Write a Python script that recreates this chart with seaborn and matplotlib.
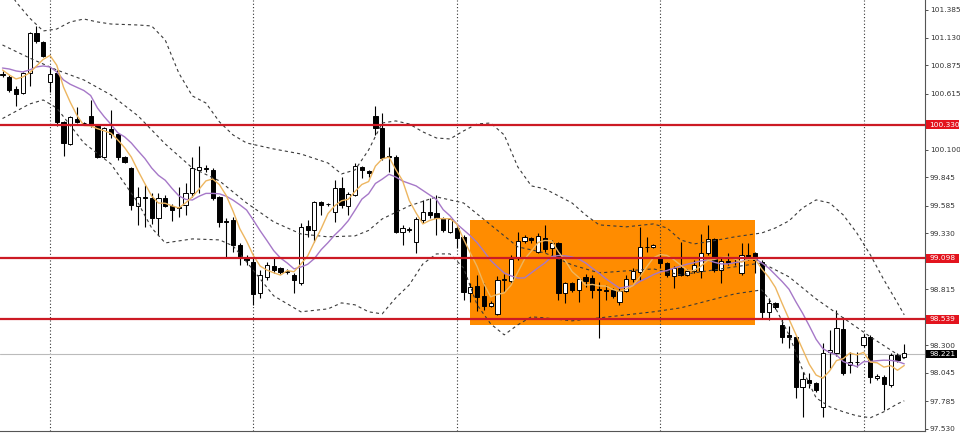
import numpy as np
import pandas as pd
import seaborn as sns
import matplotlib.pyplot as plt
from matplotlib.patches import Rectangle

# OHLC values, one entry per bar (bar 0 = leftmost)
opens = [100.787, 100.769, 100.658, 100.621, 100.805, 101.173, 101.091, 100.723, 100.805, 100.355,
         100.152, 100.382, 100.345, 100.410, 100.318, 100.033, 100.290, 100.244, 100.033, 99.931,
         99.582, 99.665, 99.655, 99.471, 99.655, 99.582, 99.573, 99.591, 99.701, 99.913,
         99.931, 99.913, 99.665, 99.444, 99.453, 99.223, 99.103, 99.067, 98.781, 98.929,
         99.030, 99.011, 98.984, 98.947, 98.873, 99.398, 99.361, 99.619, 99.600, 99.527,
         99.747, 99.582, 99.683, 99.941, 99.904, 100.410, 100.299, 100.042, 100.033, 99.343,
         99.361, 99.251, 99.453, 99.527, 99.517, 99.471, 99.343, 99.379, 99.297, 98.781,
         98.846, 98.754, 98.662, 98.589, 98.901, 98.892, 99.113, 99.260, 99.287, 99.159,
         99.287, 99.195, 99.241, 98.781, 98.873, 98.809, 98.929, 98.919, 98.818, 98.809,
         98.809, 98.699, 98.800, 98.910, 98.975, 99.205, 99.205, 99.113, 99.057, 98.938,
         99.011, 98.947, 98.984, 98.984, 99.149, 99.278, 98.993, 99.076, 99.067, 98.965,
         99.131, 99.149, 99.067, 98.607, 98.689, 98.487, 98.395, 98.377, 97.917, 97.981,
         97.953, 97.733, 98.239, 98.229, 98.450, 98.119, 98.147, 98.303, 98.377, 97.999,
         98.009, 97.935, 98.211, 98.193]
highs = [100.824, 100.787, 100.686, 100.815, 101.183, 101.238, 101.100, 100.861, 100.833, 100.364,
         100.410, 100.493, 100.355, 100.557, 100.336, 100.309, 100.465, 100.253, 100.042, 99.941,
         99.757, 99.775, 99.701, 99.701, 99.683, 99.600, 99.757, 99.793, 100.033, 100.134,
         99.959, 99.931, 99.674, 99.471, 99.481, 99.241, 99.131, 99.103, 98.993, 99.067,
         99.113, 99.021, 99.002, 98.965, 99.425, 99.453, 99.628, 99.628, 99.609, 99.821,
         99.849, 99.711, 99.977, 99.950, 99.913, 100.502, 100.437, 100.125, 100.051, 99.407,
         99.389, 99.481, 99.637, 99.655, 99.683, 99.481, 99.471, 99.407, 99.315, 98.873,
         98.947, 98.873, 98.708, 98.938, 98.956, 99.131, 99.343, 99.315, 99.297, 99.333,
         99.407, 99.269, 99.251, 98.883, 98.883, 98.919, 98.956, 98.947, 98.883, 98.855,
         98.827, 98.827, 98.947, 99.011, 99.389, 99.297, 99.232, 99.149, 99.067, 99.030,
         99.251, 99.002, 99.085, 99.324, 99.407, 99.287, 99.103, 99.149, 99.103, 99.241,
         99.241, 99.159, 99.085, 98.735, 98.699, 98.551, 98.478, 98.386, 98.055, 98.045,
         97.963, 98.321, 98.441, 98.625, 98.561, 98.239, 98.239, 98.404, 98.395, 98.036,
         98.027, 98.229, 98.229, 98.312]
lows = [100.769, 100.631, 100.502, 100.612, 100.686, 101.081, 100.953, 100.631, 100.318, 100.042,
        100.143, 100.345, 100.336, 100.309, 100.023, 100.023, 100.207, 100.005, 99.977, 99.545,
        99.407, 99.389, 99.416, 99.315, 99.573, 99.444, 99.481, 99.499, 99.665, 99.701,
        99.895, 99.637, 99.389, 99.113, 99.159, 99.039, 99.039, 98.671, 98.735, 98.901,
        98.965, 98.956, 98.956, 98.781, 98.855, 99.297, 99.251, 99.499, 99.582, 99.435,
        99.563, 99.499, 99.674, 99.839, 99.849, 100.235, 100.005, 99.895, 99.333, 99.223,
        99.343, 99.149, 99.425, 99.471, 99.315, 99.343, 99.333, 99.195, 98.717, 98.699,
        98.616, 98.625, 98.653, 98.579, 98.791, 98.873, 99.085, 99.241, 99.241, 99.149,
        99.159, 99.113, 98.717, 98.689, 98.791, 98.699, 98.837, 98.735, 98.367, 98.717,
        98.735, 98.671, 98.791, 98.883, 98.901, 99.159, 99.195, 99.011, 98.929, 98.827,
        98.938, 98.938, 98.965, 98.919, 99.131, 98.975, 98.873, 99.039, 99.039, 98.947,
        99.085, 98.965, 98.551, 98.533, 98.634, 98.321, 98.275, 97.815, 97.641, 97.907,
        97.871, 97.641, 98.091, 98.202, 98.027, 98.045, 98.101, 98.285, 97.953, 97.981,
        97.705, 97.917, 98.147, 98.183]
closes = [100.796, 100.649, 100.612, 100.805, 101.173, 101.100, 100.962, 100.796, 100.355, 100.161,
          100.401, 100.355, 100.341, 100.336, 100.033, 100.299, 100.244, 100.033, 99.987, 99.591,
          99.665, 99.655, 99.471, 99.655, 99.582, 99.545, 99.563, 99.701, 99.931, 99.941,
          99.922, 99.655, 99.435, 99.435, 99.223, 99.113, 99.085, 98.772, 98.947, 99.039,
          98.993, 98.975, 98.975, 98.901, 99.389, 99.361, 99.619, 99.591, 99.596, 99.747,
          99.591, 99.692, 99.950, 99.913, 99.885, 100.299, 100.023, 100.033, 99.343, 99.379,
          99.370, 99.462, 99.527, 99.499, 99.471, 99.361, 99.462, 99.287, 98.791, 98.837,
          98.745, 98.662, 98.689, 98.901, 98.910, 99.094, 99.260, 99.297, 99.269, 99.306,
          99.186, 99.241, 98.781, 98.873, 98.809, 98.910, 98.892, 98.809, 98.809, 98.800,
          98.754, 98.800, 98.910, 98.984, 99.205, 99.200, 99.223, 99.057, 98.947, 99.011,
          98.947, 98.984, 99.039, 99.149, 99.278, 98.993, 99.076, 99.057, 99.062, 99.131,
          99.122, 99.085, 98.607, 98.689, 98.653, 98.377, 98.377, 97.917, 97.990, 97.953,
          97.889, 98.229, 98.257, 98.459, 98.045, 98.147, 98.142, 98.377, 98.009, 98.018,
          97.944, 98.211, 98.165, 98.229]

# moving averages as drawn on the chart (orange = fast, purple = slow)
ma_fast = [100.833, 100.787, 100.750, 100.769, 100.807, 100.868, 100.930, 100.967, 100.877, 100.675,
           100.535, 100.413, 100.322, 100.319, 100.293, 100.273, 100.251, 100.189, 100.119, 100.031,
           99.904, 99.786, 99.674, 99.608, 99.606, 99.582, 99.563, 99.609, 99.665, 99.736,
           99.812, 99.830, 99.777, 99.677, 99.534, 99.372, 99.258, 99.125, 99.028, 98.991,
           98.967, 98.945, 98.986, 98.976, 99.046, 99.120, 99.249, 99.372, 99.511, 99.583,
           99.629, 99.643, 99.715, 99.779, 99.806, 99.948, 100.014, 100.031, 99.917, 99.815,
           99.630, 99.517, 99.416, 99.448, 99.466, 99.464, 99.464, 99.416, 99.275, 99.148,
           99.024, 98.864, 98.745, 98.767, 98.781, 98.851, 98.971, 99.092, 99.166, 99.245,
           99.264, 99.260, 99.157, 99.078, 98.978, 98.923, 98.853, 98.859, 98.846, 98.844,
           98.813, 98.794, 98.815, 98.849, 98.930, 99.020, 99.104, 99.134, 99.126, 99.088,
           99.037, 98.989, 98.986, 99.026, 99.080, 99.089, 99.107, 99.111, 99.093, 99.064,
           99.090, 99.091, 99.001, 98.927, 98.831, 98.682, 98.540, 98.402, 98.263, 98.123,
           98.025, 97.996, 98.064, 98.158, 98.176, 98.228, 98.210, 98.234, 98.144, 98.138,
           98.098, 98.112, 98.069, 98.113]
ma_slow = [100.851, 100.842, 100.824, 100.815, 100.833, 100.861, 100.870, 100.861, 100.815, 100.741,
           100.701, 100.672, 100.644, 100.598, 100.483, 100.403, 100.332, 100.255, 100.218, 100.161,
           100.088, 100.018, 99.931, 99.863, 99.818, 99.743, 99.675, 99.642, 99.636, 99.671,
           99.697, 99.697, 99.693, 99.671, 99.635, 99.592, 99.544, 99.451, 99.353, 99.263,
           99.170, 99.102, 99.056, 99.002, 99.019, 99.044, 99.097, 99.179, 99.243, 99.314,
           99.374, 99.446, 99.543, 99.644, 99.694, 99.788, 99.828, 99.873, 99.848, 99.811,
           99.789, 99.766, 99.724, 99.682, 99.641, 99.547, 99.491, 99.416, 99.361, 99.307,
           99.244, 99.164, 99.080, 99.021, 98.964, 98.938, 98.918, 98.919, 98.966, 99.013,
           99.057, 99.115, 99.125, 99.122, 99.112, 99.093, 99.057, 99.008, 98.962, 98.911,
           98.868, 98.824, 98.837, 98.848, 98.887, 98.916, 98.949, 98.974, 98.987, 99.009,
           99.028, 99.046, 99.059, 99.076, 99.083, 99.063, 99.048, 99.048, 99.059, 99.071,
           99.089, 99.099, 99.056, 99.010, 98.947, 98.885, 98.815, 98.701, 98.595, 98.477,
           98.354, 98.268, 98.233, 98.210, 98.149, 98.126, 98.102, 98.148, 98.150, 98.157,
           98.162, 98.160, 98.151, 98.128]

# Bollinger bands, read at selected bars
bb_upper_idx = [0, 2, 4, 6, 8, 10, 12, 14, 16, 20, 22, 24, 26, 28, 30, 32, 34, 36, 40, 44,
                48, 50, 52, 54, 56, 58, 60, 62, 64, 66, 68, 70, 72, 74, 76, 78, 80, 84, 86, 88,
                92, 96, 98, 100, 102, 104, 108, 112, 114, 116, 118, 120, 122, 124, 126, 128, 130, 132, 133]
bb_upper = [101.661, 101.459, 101.311, 101.192, 101.210, 101.275, 101.302, 101.275, 101.256, 101.247,
            101.238, 101.109, 100.805, 100.594, 100.529, 100.355, 100.235, 100.161, 100.106, 100.060,
            99.977, 99.876, 99.913, 100.097, 100.345, 100.364, 100.336, 100.263, 100.207, 100.198,
            100.272, 100.336, 100.345, 100.235, 99.941, 99.766, 99.739, 99.609, 99.499, 99.407,
            99.389, 99.416, 99.379, 99.269, 99.232, 99.251, 99.297, 99.333, 99.379, 99.444,
            99.563, 99.637, 99.609, 99.499, 99.333, 99.131, 98.901, 98.689, 98.579]
bb_mid_idx = [0, 4, 8, 12, 16, 20, 24, 28, 32, 36, 40, 44, 48, 52, 54, 56, 60, 64, 68, 72,
              76, 80, 84, 88, 92, 96, 100, 104, 108, 112, 116, 120, 124, 128, 133]
bb_mid = [101.063, 100.943, 100.833, 100.741, 100.603, 100.410, 100.152, 99.931, 99.812, 99.609,
          99.435, 99.324, 99.297, 99.306, 99.356, 99.462, 99.582, 99.665, 99.609, 99.407,
          99.205, 99.149, 99.039, 98.965, 98.984, 99.002, 98.947, 98.984, 99.021, 99.057,
          98.929, 98.726, 98.551, 98.377, 98.174]
bb_lower_idx = [0, 4, 6, 8, 12, 16, 20, 22, 24, 28, 32, 34, 36, 40, 44, 48, 50, 52, 54, 56,
                58, 60, 62, 64, 66, 68, 70, 72, 74, 76, 78, 80, 84, 88, 92, 96, 100, 104, 108, 112,
                114, 116, 118, 120, 122, 124, 126, 128, 130, 132, 133]
bb_lower = [100.386, 100.520, 100.557, 100.483, 100.161, 99.968, 99.609, 99.379, 99.241, 99.278,
            99.269, 99.214, 99.067, 98.754, 98.607, 98.634, 98.689, 98.671, 98.607, 98.588,
            98.735, 98.855, 99.048, 99.140, 99.140, 99.011, 98.671, 98.496, 98.395, 98.487,
            98.561, 98.551, 98.524, 98.551, 98.579, 98.607, 98.643, 98.708, 98.772, 98.809,
            98.643, 98.395, 98.073, 97.815, 97.733, 97.687, 97.650, 97.632, 97.687, 97.760,
            97.788]

# levels and annotations
levels = [100.330, 99.098, 98.539]
last_price = 98.221
tick_values = [101.385, 101.130, 100.875, 100.615, 100.100, 99.845, 99.585, 99.330,
               98.815, 98.300, 98.045, 97.785, 97.530]
grid_bars = [7, 37, 67, 97, 127]
zone_bars = [68.95, 110.99]
zone_prices = [98.487, 99.453]

sns.set_style("white")
plt.rcParams['font.family'] = ['DejaVu Sans']

fig = plt.figure(figsize=(9.6, 4.33), dpi=100)
ax = fig.add_axes([0, 2 / 433, 925 / 960, 431 / 433])

df = pd.DataFrame({'bar': np.arange(len(opens)), 'open': opens, 'high': highs,
                   'low': lows, 'close': closes, 'fast': ma_fast, 'slow': ma_slow})

# orange zone
ax.add_patch(Rectangle((zone_bars[0], zone_prices[0]), zone_bars[1] - zone_bars[0],
                       zone_prices[1] - zone_prices[0], fc='#FF8C00', ec='none', zorder=1))

# vertical dotted grid
for g in grid_bars:
    ax.axvline(g, color='#333333', lw=0.8, ls=(0, (1, 2)), zorder=2)

# current price line
ax.axhline(last_price, color='#BBBBBB', lw=0.8, zorder=2)

# candles
up = df['close'] >= df['open']
body_low = df[['open', 'close']].min(axis=1)
body_h = (df['close'] - df['open']).abs().clip(lower=0.004)
ax.vlines(df['bar'], df['low'], df['high'], color='black', lw=0.8, zorder=3)
ax.bar(df['bar'][up], body_h[up], bottom=body_low[up], width=0.62,
       color='white', edgecolor='black', linewidth=0.7, zorder=4)
ax.bar(df['bar'][~up], body_h[~up], bottom=body_low[~up], width=0.62,
       color='black', edgecolor='black', linewidth=0.7, zorder=4)

# bollinger bands
band_style = dict(color='#3a3a3a', lw=0.8, linestyle=(0, (2.8, 2.8)), zorder=5)
sns.lineplot(x=bb_upper_idx, y=bb_upper, ax=ax, **band_style)
sns.lineplot(x=bb_mid_idx, y=bb_mid, ax=ax, **band_style)
sns.lineplot(x=bb_lower_idx, y=bb_lower, ax=ax, **band_style)

# moving averages
sns.lineplot(data=df, x='bar', y='slow', ax=ax, color='#A678C8', lw=1.0, zorder=6)
sns.lineplot(data=df, x='bar', y='fast', ax=ax, color='#EDB660', lw=1.0, zorder=6)

# red horizontal levels
for lv in levels:
    ax.axhline(lv, color='#CC1A24', lw=1.6, zorder=7)

ax.set_xlim(-0.369, 136.06)
ax.set_ylim(97.510, 101.477)
ax.set_xlabel('')
ax.set_ylabel('')
ax.set_xticks([])
ax.yaxis.tick_right()
ax.set_yticks(tick_values)
ax.set_yticklabels([f'{t:.3f}' for t in tick_values])
ax.tick_params(axis='y', length=2, width=0.6, pad=1.5, labelsize=5.3, colors='#333333')

for side in ['left', 'top']:
    ax.spines[side].set_visible(False)
for side in ['right', 'bottom']:
    ax.spines[side].set_color('#555555')
    ax.spines[side].set_linewidth(0.8)

# price labels on the axis
trans = ax.get_yaxis_transform()
for lv in levels:
    ax.add_patch(Rectangle((1.0011, lv - 0.041), 0.0357, 0.082, transform=trans,
                           fc='#E3141E', ec='none', clip_on=False, zorder=10))
    ax.text(1.0045, lv, f'{lv:.3f}', transform=trans, color='white', fontsize=5.3,
            va='center', ha='left', clip_on=False, zorder=11)
ax.add_patch(Rectangle((1.0011, last_price - 0.037), 0.0335, 0.074, transform=trans,
                       fc='black', ec='none', clip_on=False, zorder=10))
ax.text(1.0045, last_price, f'{last_price:.3f}', transform=trans, color='white', fontsize=5.3,
        va='center', ha='left', clip_on=False, zorder=11)

fig.savefig('out.png', dpi=100)
